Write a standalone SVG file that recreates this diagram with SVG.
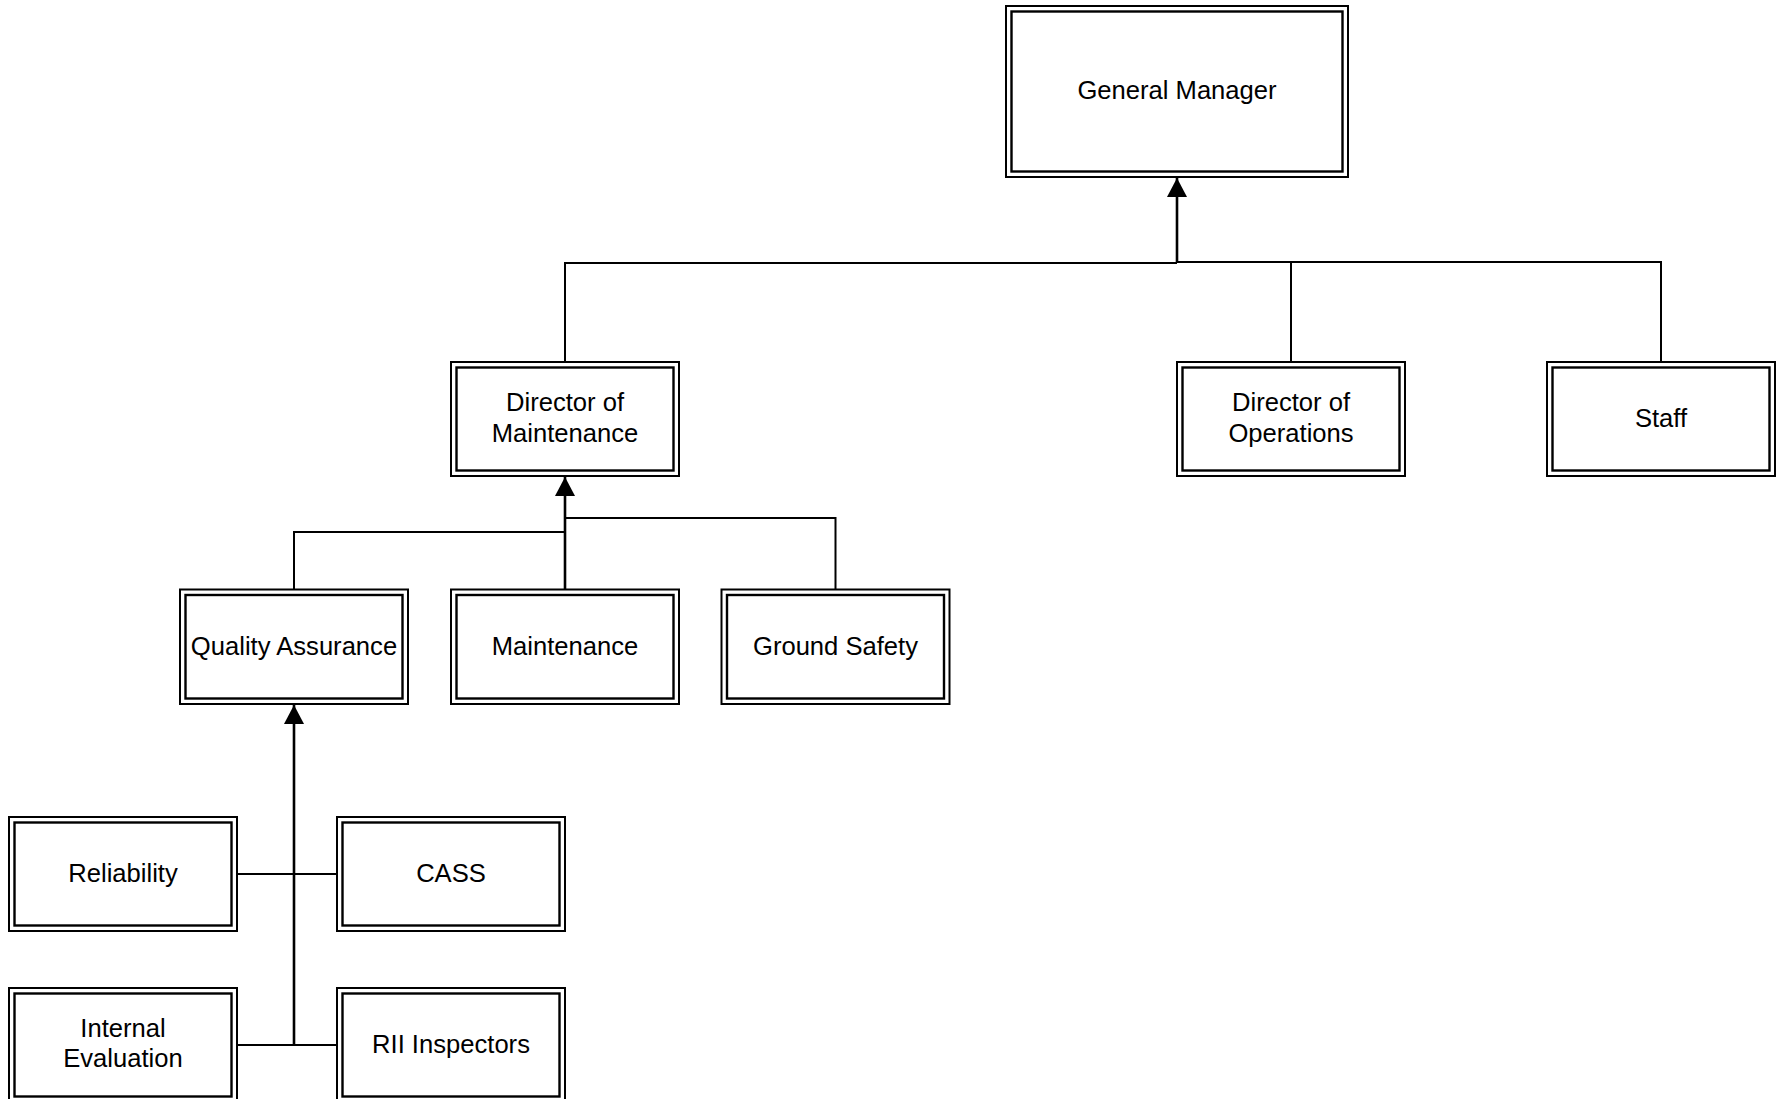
<svg xmlns="http://www.w3.org/2000/svg" width="1781" height="1099" viewBox="0 0 1781 1099">
  <style>
    .outer { fill: #fff; stroke: #000; stroke-width: 2; }
    .inner { fill: none; stroke: #000; stroke-width: 2.4; }
    .lbl { font-family: "Liberation Sans", Arial, sans-serif; font-size: 25.6px; fill: #000; text-anchor: middle; }
    .wire { fill: none; stroke: #000; stroke-width: 2; }
    .stem { fill: none; stroke: #000; stroke-width: 2.6; }
  </style>
  <defs>
    <marker id="tri" markerUnits="userSpaceOnUse" markerWidth="22" markerHeight="22" viewBox="0 0 22 22" refX="19" refY="11" orient="auto">
      <path d="M0,1 L19,11 L0,21 Z" fill="#000"/>
    </marker>
  </defs>
  <rect width="1781" height="1099" fill="#fff"/>

  <!-- connectors -->
  <g id="connectors">
    <!-- general manager tree -->
    <path class="wire" d="M565,362 V263 H1177"/>
    <path class="wire" d="M1177,262 H1661 V362"/>
    <path class="wire" d="M1291,262 V362"/>
    <path class="stem" d="M1177,263 V178" marker-end="url(#tri)"/>
    <!-- director of maintenance tree -->
    <path class="wire" d="M565,518 H835.5 V589.5"/>
    <path class="wire" d="M565,532 H294 V589.5"/>
    <path class="stem" d="M565,589.5 V477" marker-end="url(#tri)"/>
    <!-- quality assurance tree -->
    <path class="wire" d="M237,874 H337"/>
    <path class="wire" d="M237,1045 H337"/>
    <path class="stem" d="M294,1045 V705" marker-end="url(#tri)"/>
  </g>

  <g id="general-manager">
    <rect class="outer" x="1006" y="6" width="342" height="171"/>
    <rect class="inner" x="1011.5" y="11.5" width="331" height="160"/>
    <text class="lbl" x="1177" y="99">General Manager</text>
  </g>

  <g id="director-maintenance">
    <rect class="outer" x="451" y="362" width="228" height="114"/>
    <rect class="inner" x="456.5" y="367.5" width="217" height="103"/>
    <text class="lbl" x="565" y="411">Director of</text>
    <text class="lbl" x="565" y="442">Maintenance</text>
  </g>

  <g id="director-operations">
    <rect class="outer" x="1177" y="362" width="228" height="114"/>
    <rect class="inner" x="1182.5" y="367.5" width="217" height="103"/>
    <text class="lbl" x="1291" y="411">Director of</text>
    <text class="lbl" x="1291" y="442">Operations</text>
  </g>

  <g id="staff">
    <rect class="outer" x="1547" y="362" width="228" height="114"/>
    <rect class="inner" x="1552.5" y="367.5" width="217" height="103"/>
    <text class="lbl" x="1661" y="427">Staff</text>
  </g>

  <g id="quality-assurance">
    <rect class="outer" x="180" y="589.5" width="228" height="114.5"/>
    <rect class="inner" x="185.5" y="595" width="217" height="103.5"/>
    <text class="lbl" x="294" y="655">Quality Assurance</text>
  </g>

  <g id="maintenance">
    <rect class="outer" x="451" y="589.5" width="228" height="114.5"/>
    <rect class="inner" x="456.5" y="595" width="217" height="103.5"/>
    <text class="lbl" x="565" y="655">Maintenance</text>
  </g>

  <g id="ground-safety">
    <rect class="outer" x="721.5" y="589.5" width="228" height="114.5"/>
    <rect class="inner" x="727" y="595" width="217" height="103.5"/>
    <text class="lbl" x="835.5" y="655">Ground Safety</text>
  </g>

  <g id="reliability">
    <rect class="outer" x="9" y="817" width="228" height="114"/>
    <rect class="inner" x="14.5" y="822.5" width="217" height="103"/>
    <text class="lbl" x="123" y="882">Reliability</text>
  </g>

  <g id="cass">
    <rect class="outer" x="337" y="817" width="228" height="114"/>
    <rect class="inner" x="342.5" y="822.5" width="217" height="103"/>
    <text class="lbl" x="451" y="882">CASS</text>
  </g>

  <g id="internal-evaluation">
    <rect class="outer" x="9" y="988" width="228" height="114"/>
    <rect class="inner" x="14.5" y="993.5" width="217" height="103"/>
    <text class="lbl" x="123" y="1037">Internal</text>
    <text class="lbl" x="123" y="1067">Evaluation</text>
  </g>

  <g id="rii-inspectors">
    <rect class="outer" x="337" y="988" width="228" height="114"/>
    <rect class="inner" x="342.5" y="993.5" width="217" height="103"/>
    <text class="lbl" x="451" y="1053">RII Inspectors</text>
  </g>
</svg>
